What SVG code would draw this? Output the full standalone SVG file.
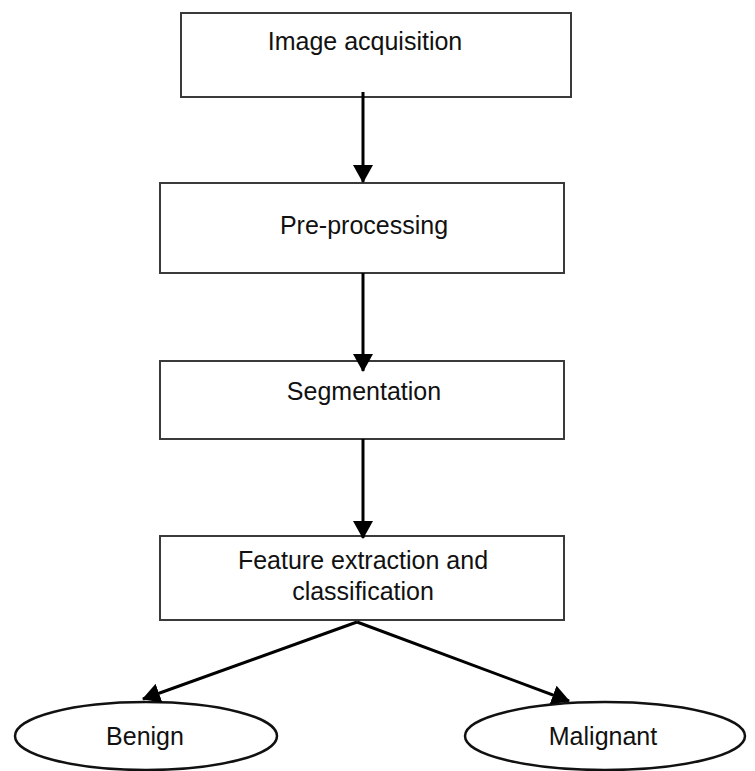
<svg xmlns="http://www.w3.org/2000/svg" width="755" height="771" viewBox="0 0 755 771">
<defs>
<style>
.box{fill:#fff;stroke:#3a3a3a;stroke-width:2}
.ell{fill:#fff;stroke:#111;stroke-width:2.5}
.lbl{font-family:"Liberation Sans",Arial,sans-serif;font-size:25px;fill:#111;text-anchor:middle}
.conn{stroke:#000;stroke-width:3;fill:none}
</style>
<marker id="ah" viewBox="0 0 18 20" refX="17" refY="10" markerWidth="18" markerHeight="20" markerUnits="userSpaceOnUse" orient="auto">
<path d="M0,0 L18,10 L0,20 z" fill="#000"/>
</marker>
</defs>
<rect width="755" height="771" fill="#fff"/>
<g id="n1"><rect class="box" x="181" y="13" width="390" height="84"/><text class="lbl" x="365" y="50">Image acquisition</text></g>
<g id="n2"><rect class="box" x="160" y="183" width="404" height="90"/><text class="lbl" x="364" y="234">Pre-processing</text></g>
<g id="n3"><rect class="box" x="160" y="361" width="404" height="78"/><text class="lbl" x="364" y="400">Segmentation</text></g>
<g id="n4"><rect class="box" x="160" y="536" width="404" height="84"/><text class="lbl" x="363" y="569">Feature extraction and</text><text class="lbl" x="363" y="600">classification</text></g>
<g id="n5"><ellipse class="ell" cx="146" cy="736" rx="131" ry="34"/><text class="lbl" x="145" y="745">Benign</text></g>
<g id="n6"><ellipse class="ell" cx="605" cy="736" rx="140" ry="34"/><text class="lbl" x="603" y="745">Malignant</text></g>
<g id="connectors">
<line class="conn" x1="363" y1="92" x2="363" y2="182" marker-end="url(#ah)"/>
<line class="conn" x1="363" y1="273" x2="363" y2="371" marker-end="url(#ah)"/>
<line class="conn" x1="363" y1="439" x2="363" y2="538" marker-end="url(#ah)"/>
<line class="conn" x1="357" y1="622" x2="143" y2="699" marker-end="url(#ah)"/>
<line class="conn" x1="357" y1="622" x2="569" y2="701" marker-end="url(#ah)"/>
</g>
</svg>
